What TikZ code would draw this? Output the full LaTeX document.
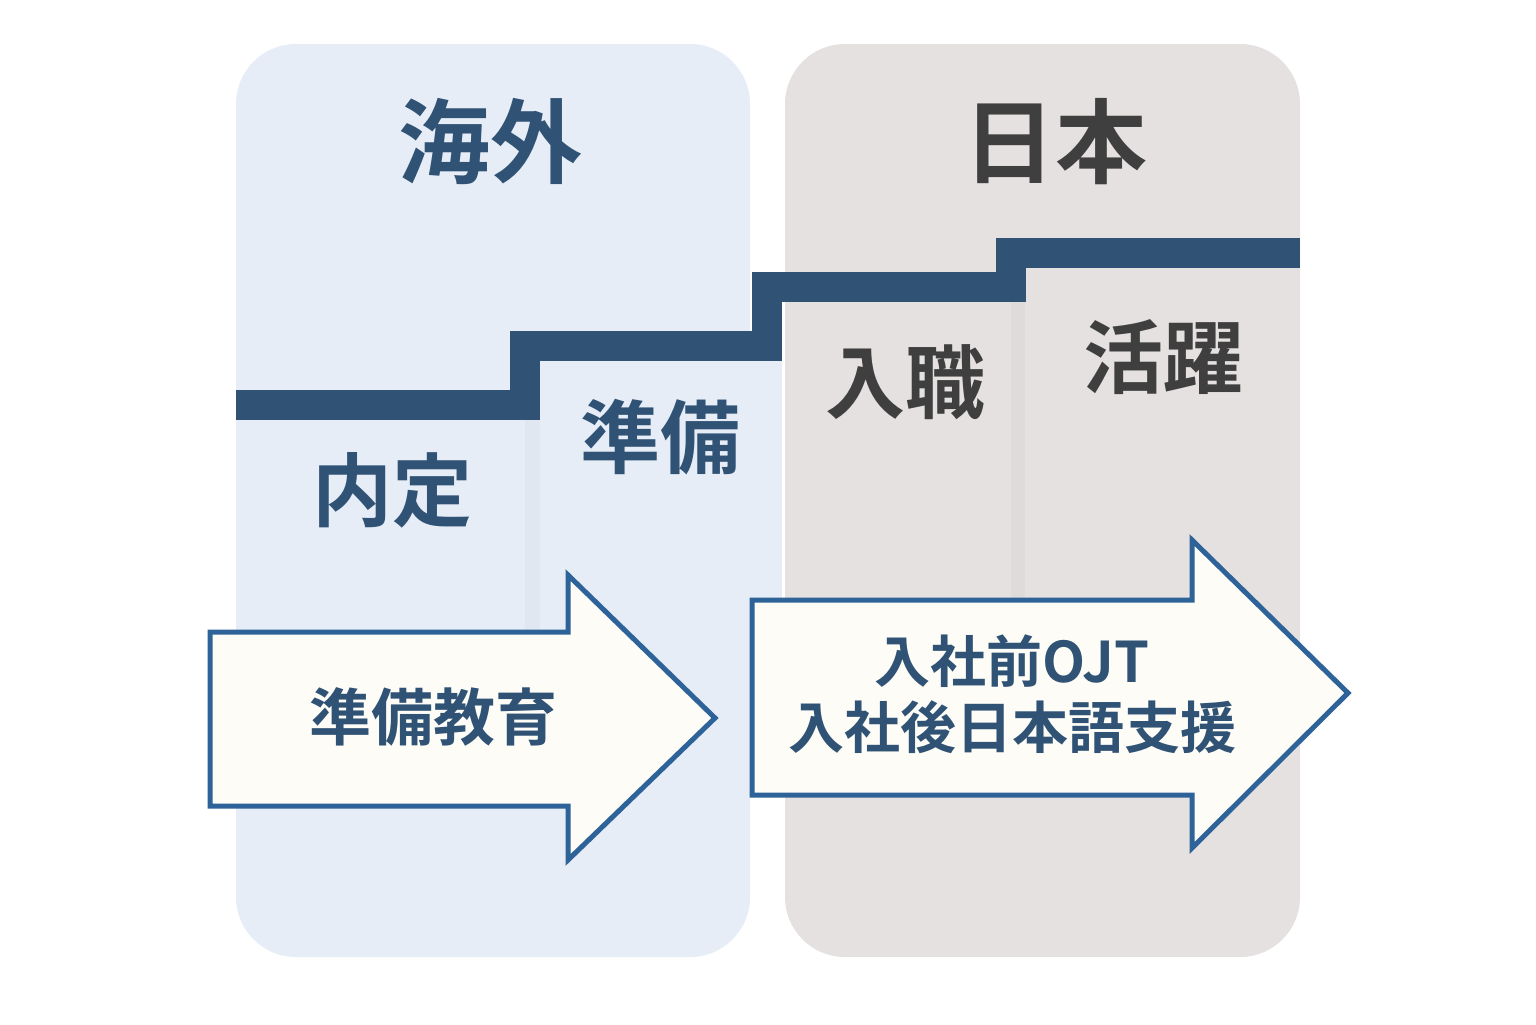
\documentclass[tikz,border=0pt]{standalone}
\usepackage{fontspec}
\setmainfont{Noto Sans CJK JP Bold}
\definecolor{navy}{HTML}{2F5275}
\definecolor{abl}{HTML}{2E6399}
\definecolor{dgray}{HTML}{3F3F3F}
\definecolor{lblue}{HTML}{E6EDF7}
\definecolor{lgray}{HTML}{E5E1E0}
\definecolor{cream}{HTML}{FDFCF7}
\begin{document}
\begin{tikzpicture}[x=0.5pt,y=-0.5pt]
\tikzset{panel/.style={rounded corners=30pt,draw=none},
 bigt/.style={font=\fontsize{46}{50}\selectfont},
 midt/.style={font=\fontsize{40}{44}\selectfont},
 arr/.style={draw=abl,line width=2.5pt,fill=cream,line join=miter},
 arrt/.style={font=\fontsize{28}{34}\selectfont,text=navy,align=center}}
\fill[white] (0,0) rectangle (1536,1024);
\useasboundingbox (0,0) rectangle (1536,1024);
\fill[panel,lblue] (236,44) rectangle (750,957);
\fill[panel,lgray] (785,44) rectangle (1300,957);
% subtle step shading
\fill[lblue] (750,360) rectangle (782,640);
\fill[black,opacity=0.025] (525,420) rectangle (540,630);
\fill[black,opacity=0.025] (1011,300) rectangle (1025,600);
\draw[navy,line width=15pt] (236,405) -- (525,405) -- (525,346) -- (767,346) -- (767,287) -- (1011,287) -- (1011,253) -- (1300,253);
\node[bigt,text=navy] (kaigai) at (490,142) {海外};
\node[bigt,text=dgray] (nihon) at (1055,142) {日本};
\node[midt,text=navy] (naitei) at (392,490) {内定};
\node[midt,text=navy] (junbi) at (660,437) {準備};
\node[midt,text=dgray] (nyusyoku) at (905,382) {入職};
\node[midt,text=dgray] (katsuyaku) at (1163,357) {活躍};
\draw[arr] (210,632) -- (568,632) -- (568,575) -- (715,718) -- (568,860) -- (568,806) -- (210,806) -- cycle;
\node[arrt,font=\fontsize{31}{34}\selectfont] (a1) at (433,717) {準備教育};
\draw[arr] (752,600) -- (1192,600) -- (1192,540) -- (1348,693) -- (1192,848) -- (1192,795) -- (752,795) -- cycle;
\node[arrt] (a2) at (1012,694) {入社前OJT\\[-1pt]入社後日本語支援};
\end{tikzpicture}
\end{document}
